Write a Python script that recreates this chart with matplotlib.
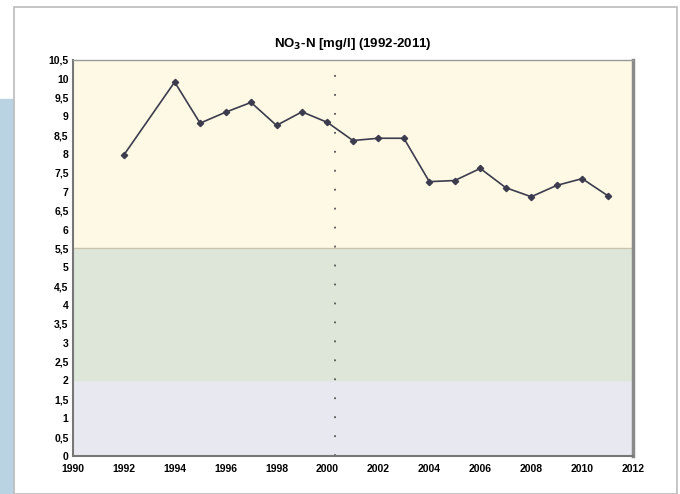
import matplotlib
matplotlib.use("Agg")
import matplotlib.pyplot as plt
import numpy as np
from matplotlib.patches import Rectangle

# data
years = [1992, 1994, 1995, 1996, 1997, 1998, 1999, 2000, 2001, 2002,
         2003, 2004, 2005, 2006, 2007, 2008, 2009, 2010, 2011]
no3n = [7.97, 9.91, 8.82, 9.11, 9.37, 8.76, 9.12, 8.84, 8.36, 8.42,
        8.42, 7.27, 7.30, 7.62, 7.11, 6.87, 7.17, 7.35, 6.90]

# quality classes (lower, upper, colour)
bands = [(0, 2, "#e8e9f0"), (2, 5.5, "#dde6d8"), (5.5, 10.5, "#fdf9e5")]
marker_year = 2000.3

xticks = list(range(1990, 2013, 2))
yticks = np.arange(0, 10.51, 0.5)

fig = plt.figure(figsize=(6.8, 4.94), dpi=100)
fig.patch.set_facecolor("white")

# light blue strip on the left edge of the scan
fig.patches.append(Rectangle((0, 0), 0.02, 0.8, transform=fig.transFigure,
                             color="#b9d3e2", zorder=-2))
fig.patches.append(Rectangle((0.02, 0), 0.975, 0.985, transform=fig.transFigure,
                             facecolor="white", edgecolor="#bbbbbb", lw=1.2, zorder=-1))

ax = fig.add_axes([0.107, 0.077, 0.824, 0.802])
ax.set_zorder(1)

for lo, hi, c in bands:
    ax.axhspan(lo, hi, color=c, zorder=0)
ax.axhline(5.5, color="#c8c4b0", lw=1, zorder=1)

ax.axvline(marker_year, color="#555555", lw=1.3, ls=(0, (1, 9.5)), zorder=2)

ax.plot(years, no3n, color="#3c3c4e", lw=1.2, marker="D", ms=3.2,
        markerfacecolor="#3c3c4e", zorder=3)

ax.set_xlim(1990, 2012)
ax.set_ylim(0, 10.5)
ax.set_xticks(xticks)
ax.set_yticks(yticks)
ax.set_yticklabels([("%g" % v).replace(".", ",") for v in yticks])
ax.tick_params(length=0, labelsize=7.5)
ax.tick_params(axis="y", pad=3)
ax.tick_params(axis="x", pad=6)
for lab in ax.get_xticklabels() + ax.get_yticklabels():
    lab.set_fontweight("bold")
    lab.set_family("Liberation Sans")

for side in ["left", "bottom"]:
    ax.spines[side].set_color("#777777")
    ax.spines[side].set_linewidth(1.5)
ax.spines["right"].set_color("#8a8a8a")
ax.spines["right"].set_linewidth(2.5)
ax.spines["top"].set_color("#999999")
ax.spines["top"].set_linewidth(1)

ax.set_title("NO$_\\mathbf{3}$-N [mg/l] (1992-2011)", fontsize=9.5, fontweight="bold",
             family="Liberation Sans", pad=9)

fig.savefig("out.png", dpi=100)
